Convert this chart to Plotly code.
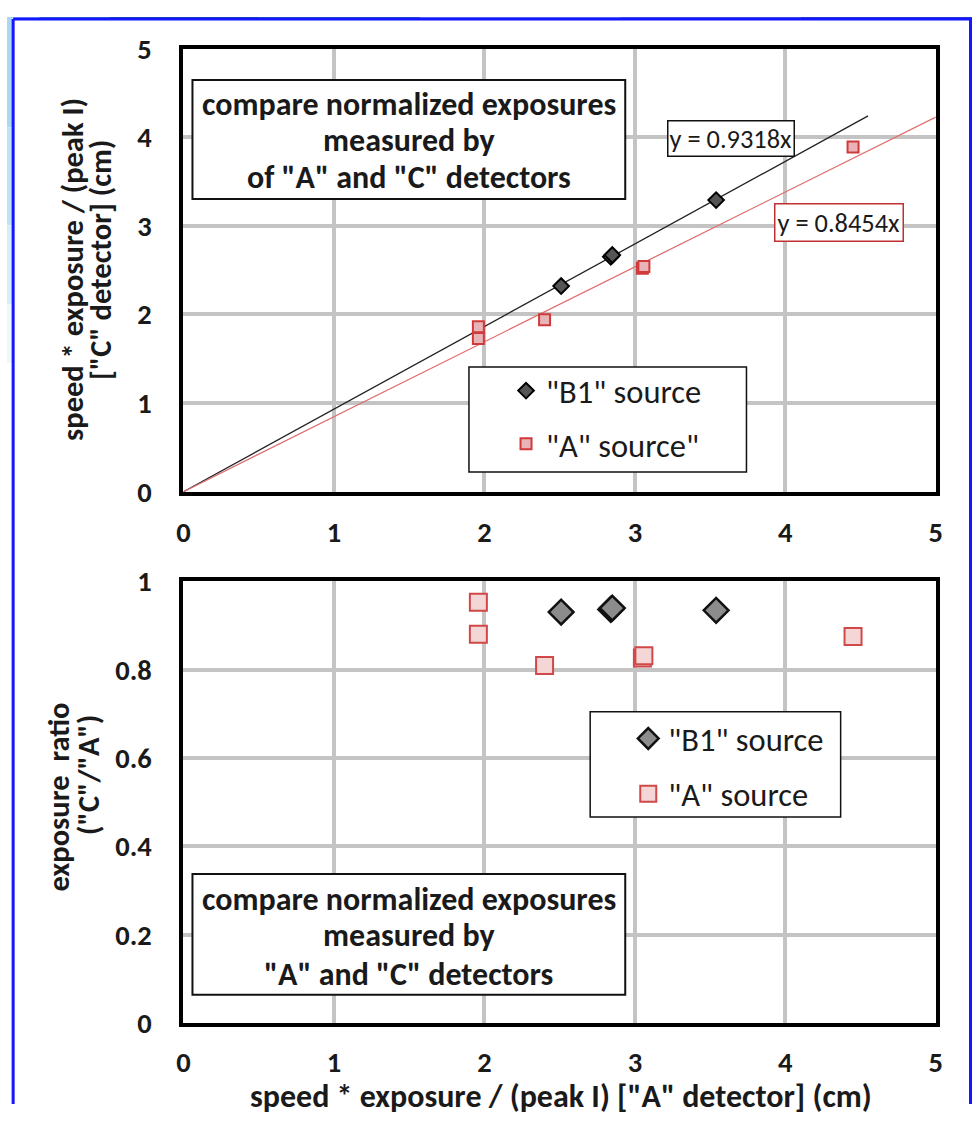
import plotly.graph_objects as go

# ---------------- data ----------------
b1_x = [2.51, 2.84, 2.85, 3.54]
b1_y = [2.32, 2.65, 2.67, 3.29]
b1_ratio = [0.930, 0.936, 0.939, 0.934]

a_x = [1.96, 1.96, 2.40, 3.05, 3.06, 4.45]
a_y = [1.86, 1.73, 1.94, 2.52, 2.54, 3.89]
a_ratio = [0.952, 0.880, 0.809, 0.826, 0.831, 0.875]

b1_slope = 0.9318
a_slope = 0.8454
b1_fit_x = [0.0, 4.55]
a_fit_x = [0.0, 5.0]

x_ticks = [0, 1, 2, 3, 4, 5]
y_top_ticks = [0, 1, 2, 3, 4, 5]
y_bot_ticks = [0, 0.2, 0.4, 0.6, 0.8, 1]

# ---------------- helpers ----------------
W, H = 979, 1122
SX, SY, OFF = 979 / 995, 1122 / 1138, 8   # page is shown with an 8px body margin, then fitted
def PX(t): return (t / SX - OFF) / W          # target pixel -> paper x
def PY(t): return 1 - (t / SY - OFF) / H      # target pixel -> paper y
def F(s): return round(s / SX, 1)              # font size compensation

FONT = "Carlito, Calibri, Lato, 'Open Sans', sans-serif"
TXT = "#1a1a1a"

fig = go.Figure()

# top panel
fig.add_trace(go.Scatter(x=b1_fit_x, y=[b1_slope * v for v in b1_fit_x], mode="lines",
                         line=dict(color="#222222", width=1.3), showlegend=False,
                         xaxis="x", yaxis="y", hoverinfo="skip"))
fig.add_trace(go.Scatter(x=a_fit_x, y=[a_slope * v for v in a_fit_x], mode="lines",
                         line=dict(color="#e07070", width=1.3), showlegend=False,
                         xaxis="x", yaxis="y", hoverinfo="skip"))
fig.add_trace(go.Scatter(x=b1_x, y=b1_y, mode="markers", name='"B1" source',
                         marker=dict(symbol="diamond", size=12, color="#555555",
                                     line=dict(color="#000000", width=2)),
                         xaxis="x", yaxis="y", legend="legend", legendgroup="t1"))
fig.add_trace(go.Scatter(x=a_x, y=a_y, mode="markers", name='"A" source"',
                         marker=dict(symbol="square", size=11, color="#e8b4b8",
                                     line=dict(color="#d03a3a", width=2)),
                         xaxis="x", yaxis="y", legend="legend", legendgroup="t2"))

# bottom panel
fig.add_trace(go.Scatter(x=b1_x, y=b1_ratio, mode="markers", name='"B1" source',
                         marker=dict(symbol="diamond", size=19, color="#8c8c8c",
                                     line=dict(color="#111111", width=2.5)),
                         xaxis="x2", yaxis="y2", legend="legend2", legendgroup="b1"))
fig.add_trace(go.Scatter(x=a_x, y=a_ratio, mode="markers", name='"A" source',
                         marker=dict(symbol="square", size=17, color="#f4d6d6",
                                     line=dict(color="#d04848", width=2)),
                         xaxis="x2", yaxis="y2", legend="legend2", legendgroup="b2"))

axis_common = dict(showline=True, linewidth=4, linecolor="black", mirror=True,
                   showgrid=True, gridcolor="#c4c4c4", gridwidth=4, zeroline=False,
                   ticks="outside", tickcolor="rgba(0,0,0,0)",
                   tickfont=dict(family=FONT, size=F(28), color=TXT, weight="bold"))

x_dom = [PX(184), PX(935)]
fig.update_layout(
    width=W, height=H, margin=dict(l=0, r=0, t=0, b=0),
    paper_bgcolor="white", plot_bgcolor="white",
    xaxis=dict(domain=x_dom, range=[0, 5], tickvals=x_ticks, anchor="y", ticklen=12, **axis_common),
    yaxis=dict(domain=[PY(491), PY(40)], range=[0, 5], tickvals=y_top_ticks, anchor="x", ticklen=22, **axis_common),
    xaxis2=dict(domain=x_dom, range=[0, 5], tickvals=x_ticks, anchor="y2", ticklen=10, **axis_common),
    yaxis2=dict(domain=[PY(1032), PY(582)], range=[0, 1], tickvals=y_bot_ticks, anchor="x2", ticklen=22, **axis_common),
    legend=dict(x=PX(506), y=PY(360), xanchor="left", yanchor="top", bgcolor="rgba(0,0,0,0)",
                borderwidth=0, font=dict(family=FONT, size=F(32), color=TXT), tracegroupgap=8),
    legend2=dict(x=PX(628), y=PY(714), xanchor="left", yanchor="top", bgcolor="rgba(0,0,0,0)",
                 borderwidth=0, font=dict(family=FONT, size=F(32), color=TXT), tracegroupgap=10),
)

shapes = []
# decorative frame (what remains visible of the blue slide border)
top_cols = [(0, 40, "#9fd3ec"), (40, 110, "#3f93ad"), (110, 260, "#1d6480"), (260, 420, "#2f78a4"),
            (420, 620, "#8fb6dc"), (620, 800, "#5f8fcf"), (800, 979, "#2f62b4")]
for x0, x1, c in top_cols:
    shapes.append(dict(type="rect", xref="paper", yref="paper", x0=max(PX(x0), 0), x1=min(PX(x1), 1),
                       y0=1 - 1 / H, y1=1, fillcolor=c, line=dict(width=0), layer="below"))
left_cols = [(0, 120, "#a9d9f1"), (120, 220, "#bfe3f5"), (220, 300, "#d6eef9"), (300, 360, "#eef8fc")]
for y0, y1, c in left_cols:
    shapes.append(dict(type="rect", xref="paper", yref="paper", x0=0, x1=PX(13),
                       y0=PY(y1), y1=min(PY(y0), 1), fillcolor=c, line=dict(width=0), layer="below"))
shapes.append(dict(type="line", xref="paper", yref="paper", x0=PX(14), x1=1, y0=1 - 2 / H, y1=1 - 2 / H,
                   line=dict(color="#1515ff", width=3)))
shapes.append(dict(type="line", xref="paper", yref="paper", x0=PX(14), x1=PX(14), y0=0, y1=1 - 2 / H,
                   line=dict(color="#1515ff", width=3)))
shapes.append(dict(type="line", xref="paper", yref="paper", x0=977.5 / W, x1=977.5 / W, y0=0, y1=1 - 2 / H,
                   line=dict(color="#1515ff", width=3)))

# boxes (text boxes and legend frames)
def box(x0, y0, x1, y1, color="#111111", w=2):
    shapes.append(dict(type="rect", xref="paper", yref="paper", x0=PX(x0), x1=PX(x1),
                       y0=PY(y1), y1=PY(y0), fillcolor="white", line=dict(color=color, width=w),
                       layer="above"))
box(193, 72, 625, 193)
box(469, 364, 746, 471, w=1.5)
box(193, 880, 625, 1003)
box(590, 715, 840, 822, w=1.5)
fig.update_layout(shapes=shapes)

ann = []
def text(x, y, s, size=31.5, bold=True, angle=0, color=TXT):
    ann.append(dict(xref="paper", yref="paper", x=PX(x), y=PY(y), text=s, showarrow=False,
                    xanchor="center", yanchor="middle", textangle=angle,
                    font=dict(family=FONT, size=F(size), color=color, weight="bold" if bold else "normal")))

text(409, 97, "compare normalized exposures")
text(409, 134, "measured by")
text(409, 171, 'of "A" and "C" detectors')
text(409, 906, "compare normalized exposures")
text(409, 943, "measured by")
text(409, 982, '"A" and "C" detectors')

text(73, 265, "speed * exposure / (peak I)", size=30, angle=-90)
text(102, 255, '["C" detector] (cm)', size=30, angle=-90)
text(59, 802, "exposure&nbsp;&nbsp;ratio", size=30, angle=-90)
text(89, 779, '("C"/"A")', size=30, angle=-90)
text(561, 1106, 'speed * exposure / (peak I) ["A" detector] (cm)', size=31.5)

ann.append(dict(xref="paper", yref="paper", x=PX(731), y=PY(132), text="y = 0.9318x", showarrow=False,
                xanchor="center", yanchor="middle", bgcolor="white", bordercolor="#111111",
                borderwidth=1.5, borderpad=1, font=dict(family=FONT, size=F(26), color=TXT)))
ann.append(dict(xref="paper", yref="paper", x=PX(838), y=PY(217), text="y = 0.8454x", showarrow=False,
                xanchor="center", yanchor="middle", bgcolor="white", bordercolor="#c03030",
                borderwidth=1.5, borderpad=2, font=dict(family=FONT, size=F(26), color=TXT)))
fig.update_layout(annotations=ann)

fig.write_html("out.html")
